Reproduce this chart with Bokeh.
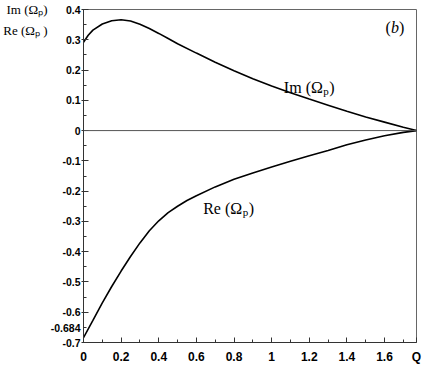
from bokeh.plotting import figure
from bokeh.models import Range1d, FixedTicker, Label, Span, LinearAxis
from bokeh.embed import file_html
from bokeh.resources import INLINE

# ---- data ----
q_im = [0, 0.025, 0.05, 0.1, 0.15, 0.2, 0.25, 0.3, 0.35, 0.4, 0.45, 0.5, 0.6, 0.7,
        0.8, 0.9, 1.0, 1.1, 1.2, 1.3, 1.4, 1.5, 1.6, 1.7, 1.77]
im_vals = [0.292, 0.315, 0.332, 0.352, 0.363, 0.366, 0.362, 0.351, 0.337, 0.321,
           0.304, 0.287, 0.256, 0.226, 0.198, 0.171, 0.147, 0.125, 0.104, 0.084,
           0.064, 0.045, 0.028, 0.011, 0.0]
q_re = [0, 0.05, 0.1, 0.15, 0.2, 0.25, 0.3, 0.35, 0.4, 0.45, 0.5, 0.55, 0.6, 0.7,
        0.8, 0.9, 1.0, 1.1, 1.2, 1.3, 1.4, 1.5, 1.6, 1.7, 1.77]
re_vals = [-0.684, -0.627, -0.569, -0.515, -0.464, -0.416, -0.371, -0.331, -0.298,
           -0.271, -0.250, -0.231, -0.215, -0.186, -0.161, -0.140, -0.120, -0.101,
           -0.083, -0.066, -0.047, -0.031, -0.017, -0.006, 0.0]

x_ticks = [0, 0.2, 0.4, 0.6, 0.8, 1, 1.2, 1.4, 1.6, 1.77]
x_tick_labels = ["0", "0.2", "0.4", "0.6", "0.8", "1", "1.2", "1.4", "1.6", "Q"]
x_minor = [0.1, 0.3, 0.5, 0.7, 0.9, 1.1, 1.3, 1.5, 1.7]
y_ticks = [-0.7, -0.6, -0.5, -0.4, -0.3, -0.2, -0.1, 0, 0.1, 0.2, 0.3, 0.4]
y_tick_labels = ["-0.684\n-0.7\n", "-0.6", "-0.5", "-0.4", "-0.3", "-0.2", "-0.1",
                 "0", "0.1", "0.2", "0.3", "0.4"]
y_minor = [-0.65, -0.55, -0.45, -0.35, -0.25, -0.15, -0.05, 0.05, 0.15, 0.25, 0.35]
title_ticks = [0.399, 0.33]
title_labels = ["Im (\u03a9\u209a)", "Re (\u03a9\u209a )"]
x_max = 1.77
y_min, y_max = -0.7, 0.4

SERIF = "Liberation Serif"
SANS = "Liberation Sans"

p = figure(width=425, height=366, output_backend="svg", toolbar_location=None,
           x_range=Range1d(0, x_max), y_range=Range1d(y_min, y_max),
           min_border_left=82, min_border_right=9, min_border_top=9,
           min_border_bottom=24)
p.xgrid.visible = False
p.ygrid.visible = False
p.outline_line_color = "#666666"
p.outline_line_width = 1
p.background_fill_color = "white"
p.border_fill_color = "white"

for ax in (p.xaxis[0], p.yaxis[0]):
    ax.axis_line_color = "#333333"
    ax.major_tick_line_color = "#333333"
    ax.minor_tick_line_color = "#333333"
    ax.major_label_text_font = SANS
    ax.major_label_text_font_style = "bold"
    ax.major_label_text_color = "black"

p.xaxis.ticker = FixedTicker(ticks=x_ticks, minor_ticks=x_minor)
p.xaxis.major_label_overrides = dict(zip(x_ticks, x_tick_labels))
p.xaxis.major_label_text_font_size = "12px"
p.xaxis.major_tick_in = 5
p.xaxis.major_tick_out = 0
p.xaxis.minor_tick_in = 3
p.xaxis.minor_tick_out = 0
p.xaxis.major_label_standoff = 7

p.yaxis.ticker = FixedTicker(ticks=y_ticks, minor_ticks=y_minor)
p.yaxis.major_label_overrides = dict(zip(y_ticks, y_tick_labels))
p.yaxis.major_label_text_font_size = "10.5px"
p.yaxis.major_tick_in = 5
p.yaxis.major_tick_out = 2
p.yaxis.minor_tick_in = 3
p.yaxis.minor_tick_out = 0
p.yaxis.major_label_standoff = 1

# outer left axis carrying the axis titles Im(Ωp) / Re(Ωp)
title_axis = LinearAxis(ticker=FixedTicker(ticks=title_ticks, minor_ticks=[]),
                        major_label_overrides=dict(zip(title_ticks, title_labels)),
                        axis_line_color=None, major_tick_line_color=None,
                        minor_tick_line_color=None, major_tick_out=0,
                        major_tick_in=0, major_label_standoff=0,
                        major_label_text_font=SERIF,
                        major_label_text_font_size="13px",
                        major_label_text_color="black")
p.add_layout(title_axis, "left")

# zero line
p.add_layout(Span(location=0, dimension="width", line_color="#555555", line_width=1))

# curves
p.line(q_im, im_vals, line_color="black", line_width=1.6)
p.line(q_re, re_vals, line_color="black", line_width=1.6)


def lab(x, y, text, xo=0, yo=0, size="16px", font=SERIF, style="normal",
        align="left", baseline="alphabetic"):
    p.add_layout(Label(x=x, y=y, text=text, x_offset=xo, y_offset=yo,
                       text_font=font, text_font_size=size, text_font_style=style,
                       text_align=align, text_baseline=baseline, text_color="black"))


def omega_label(x, y, head, tail, xo=0, yo=0):
    lab(x, y, head + " (\u03a9", xo, yo)
    lab(x, y, "p", xo + 39.5, yo - 3, size="11px")
    lab(x, y, tail, xo + 45.5, yo)


# curve labels
omega_label(1.065, 0.142, "Im", ")")
omega_label(0.636, -0.258, "Re", " )")

# panel tag (b)
lab(1.605, 0.341, "(", size="16px")
lab(1.605, 0.341, "b", xo=5.5, size="16px", style="italic")
lab(1.605, 0.341, ")", xo=13.5, size="16px")

open("out.html", "w").write(file_html(p, INLINE))
